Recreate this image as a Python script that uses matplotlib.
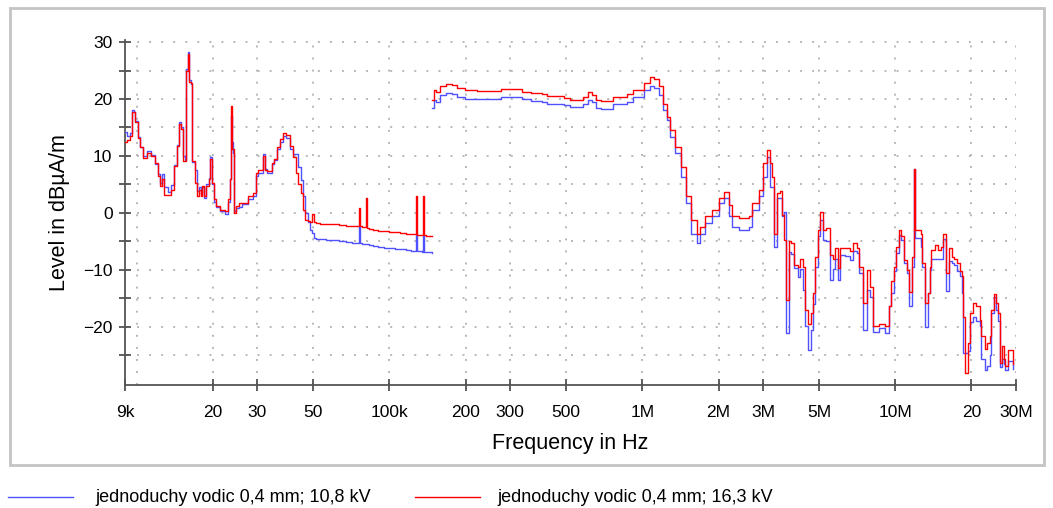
import numpy as np
import matplotlib
matplotlib.use("Agg")
import matplotlib.pyplot as plt
from matplotlib.lines import Line2D
from matplotlib.patches import Rectangle

plt.rcParams['font.family'] = ['Liberation Sans', 'DejaVu Sans']

# ---------------- data ----------------
series_labels = ["jednoduchy vodic 0,4 mm; 10,8 kV", "jednoduchy vodic 0,4 mm; 16,3 kV"]
series_colors = ["#5050ff", "#ff0000"]

# segment 1 : 9 kHz - 150 kHz (frequencies in kHz)
f1_khz = [9.0, 9.2, 9.4, 9.6, 9.75, 9.9, 10.1, 10.3, 10.6, 11.0, 11.4, 11.8, 12.1, 12.4, 12.6,
          12.85, 13.3, 13.7, 14.1, 14.4, 14.7, 15.0, 15.3, 15.5, 15.7, 15.9, 16.1, 16.4, 16.6,
          17.0, 17.3, 17.6, 17.9, 18.1, 18.5, 18.9, 19.3, 19.6, 19.9, 20.2, 20.7, 21.3, 22.4,
          23.0, 23.4, 23.55, 23.7, 23.85, 24.0, 24.2, 24.8, 25.5, 26.2, 27.5, 28.9, 29.6, 30.3,
          31.5, 32.3, 32.8, 34.2, 34.9, 36.0, 36.8, 37.9, 39.0, 40.4, 41.5, 42.7, 43.6, 44.6,
          45.3, 46.5, 47.5, 48.4, 49.5, 50.5, 51.0, 53, 56, 59, 63, 67, 71, 75.5, 76.0, 76.5,
          78, 80.5, 81.5, 83, 86, 90, 95, 100, 105, 110, 116, 122, 126.5, 127.5, 129, 134,
          136, 137, 140, 143, 147]
red1 = [12.5, 12.8, 13.5, 17.8, 17.8, 16.0, 13.2, 11.5, 9.7, 10.6, 10.0, 8.8, 6.5, 4.7, 5.9,
        3.2, 3.2, 4.0, 8.2, 11.8, 15.6, 14.7, 9.1, 9.1, 25.0, 27.9, 23.0, 22.8, 9.1,
        5.3, 2.9, 4.1, 2.9, 4.7, 2.9, 4.7, 5.9, 9.4, 5.3, 2.4, 1.2, 0.6, 0.3,
        2.4, 5.9, 13.0, 18.8, 11.2, 11.2, 0.0, 1.2, 1.8, 1.8, 2.9, 3.5, 7.0, 7.6,
        10.0, 7.6, 7.4, 8.8, 9.5, 11.5, 12.9, 14.0, 13.7, 11.7, 9.9, 7.0, 5.0, 3.5,
        0.6, -1.2, -1.4, -1.5, -0.2, -1.6, -1.8, -1.9, -2.0, -2.0, -2.1, -2.2, -2.3, -2.3, 0.9, -2.3,
        -2.5, 2.6, -2.6, -2.8, -3.0, -3.1, -3.2, -3.3, -3.4, -3.5, -3.6, -3.6, -3.7, 2.9, -3.8, -3.8,
        2.9, -3.9, -4.0, -4.0, -4.1]
blue1 = [14.2, 13.5, 14.0, 18.0, 17.8, 16.2, 13.4, 11.5, 10.0, 10.8, 10.2, 8.6, 6.8, 5.2, 6.8,
         4.6, 3.6, 4.9, 8.5, 12.0, 16.0, 15.0, 10.0, 9.3, 25.3, 28.2, 23.3, 22.6, 9.0,
         7.5, 3.8, 4.5, 3.3, 4.5, 2.6, 5.0, 6.2, 9.8, 5.0, 2.0, 1.0, 0.4, -0.1,
         2.0, 6.0, 15.5, 17.0, 12.5, 10.5, 0.3, 0.8, 1.0, 1.5, 2.5, 3.0, 6.5, 7.0,
         10.3, 7.8, 7.0, 8.6, 9.3, 11.3, 12.5, 13.5, 13.2, 11.3, 10.3, 10.3, 8.0, 5.8,
         3.0, 0.0, -1.5, -2.9, -3.5, -4.4, -4.5, -4.6, -4.7, -4.7, -5.0, -5.1, -5.2, -5.3, -2.3, -5.3,
         -5.4, -5.5, -5.5, -5.6, -5.8, -6.0, -6.1, -6.2, -6.3, -6.4, -6.5, -6.6, -6.7, -3.8, -6.7, -6.8,
         -3.8, -6.8, -6.9, -6.9, -7.0]

# segment 2 : 150 kHz - 30 MHz (frequencies in kHz)
f2_khz = [147, 150, 153, 158, 168, 177, 185, 199, 221, 267, 275, 312, 333, 364, 400, 420, 491,
          515, 566, 583, 612, 632, 656, 688, 768, 867, 922, 1010, 1070, 1110, 1160, 1210, 1250,
          1290, 1350, 1420, 1490, 1560, 1640, 1690, 1770, 1890, 2000, 2100, 2190, 2260, 2400,
          2630, 2710, 2880, 3010, 3100, 3200, 3240, 3320, 3390, 3490, 3580, 3630, 3690, 3790,
          3870, 3960, 4130, 4200, 4300, 4380, 4500, 4640, 4730, 4800, 4940, 5040, 5170, 5330,
          5500, 5670, 5760, 5940, 6030, 6310, 6600, 6790, 7040, 7210, 7480, 7720, 7960, 8160,
          8590, 9100, 9400, 9650, 9870, 10100, 10300, 10500, 10850, 11100, 11300, 11600, 11800,
          11900, 12000, 12600, 12800, 13100, 13500, 13700, 13900, 14300, 14700, 15200, 15500,
          15800, 16300, 16700, 17100, 17500, 18000, 18400, 18600, 18900, 19300, 19700, 20300,
          20900, 21600, 21900, 22600, 23100, 23600, 24000, 24600, 25100, 25400, 25900, 26300,
          26800, 27200, 28000, 29300]
red2 = [19.8, 21.6, 21.3, 22.3, 22.6, 22.5, 21.9, 21.6, 21.4, 21.4, 21.8, 21.8, 21.3, 21.0, 20.9, 20.5, 20.2,
        19.9, 19.9, 20.4, 21.3, 20.7, 19.8, 19.7, 20.4, 20.9, 21.6, 22.8, 23.8, 23.5, 22.2, 19.2, 16.9,
        14.6, 11.6, 8.1, 2.9, -1.2, -3.6, -2.4, -0.6, 0.5, 2.6, 3.6, 1.4, -0.6, -0.9,
        -0.6, 1.7, 4.0, 8.7, 11.1, 8.7, 6.4, -3.6, 3.5, 3.8, -0.3, -4.7, -15.3, -5.0,
        -5.3, -9.1, -9.4, -8.0, -9.4, -17.0, -19.4, -17.6, -14.1, -7.7, -3.0, 0.2, -3.0, -2.7,
        -7.4, -8.0, -6.2, -9.7, -6.2, -6.2, -6.6, -5.3, -6.2, -9.4, -15.8, -10.0, -12.9, -19.9,
        -19.4, -19.9, -16.4, -12.0, -9.4, -5.9, -3.0, -4.1, -8.2, -10.0, -13.8, -7.7, -4.7,
        7.8, -3.0, -3.6, -8.8, -15.8, -14.0, -9.4, -6.5, -5.6, -6.5, -5.9, -3.6,
        -10.6, -6.2, -7.7, -8.0, -8.8, -10.2, -11.1, -18.2, -28.1, -22.8, -17.5, -15.8,
        -16.4, -18.7, -21.6, -23.9, -22.8, -21.6, -17.0, -14.2, -15.8, -17.5, -26.4, -23.4,
        -25.7, -26.9, -24.0, -26.5]
blue2 = [18.5, 19.8, 19.5, 20.7, 21.0, 20.9, 20.4, 20.0, 20.0, 20.0, 20.3, 20.3, 20.0, 19.7, 19.5, 19.2, 18.9,
         18.6, 18.6, 19.2, 19.8, 19.4, 18.4, 18.2, 19.1, 19.5, 20.3, 21.6, 22.3, 21.9, 20.7, 18.0, 16.3,
         13.4, 10.5, 6.4, 1.7, -3.6, -5.3, -3.6, -1.8, -0.6, 1.7, 2.6, -0.6, -2.4, -3.0,
         -2.4, 0.5, 2.9, 6.4, 9.9, 4.6, 4.6, -5.9, 2.6, 2.6, -0.6, 0.2, -21.1, -6.9,
         -7.2, -9.6, -11.2, -9.8, -13.5, -19.9, -24.0, -20.6, -16.0, -9.4, -4.1, -1.2, -4.7, -5.0,
         -11.8, -9.8, -8.0, -11.8, -7.4, -7.6, -8.2, -6.7, -7.0, -10.5, -20.6, -13.5, -14.7, -20.8,
         -20.2, -21.1, -16.4, -14.0, -10.2, -7.0, -3.8, -4.7, -8.8, -10.5, -16.4, -9.4, -4.7,
         7.8, -4.4, -5.9, -9.5, -20.0, -14.0, -10.0, -8.0, -8.0, -8.0, -8.0, -4.5,
         -13.7, -8.5, -8.8, -9.2, -10.2, -11.1, -14.0, -24.6, -24.6, -24.3, -19.2, -18.2,
         -19.0, -19.9, -25.7, -27.5, -26.9, -25.0, -17.5, -14.7, -17.0, -19.0, -27.0, -25.7,
         -26.5, -27.5, -26.0, -27.3]

x_tick_values = [9e3, 2e4, 3e4, 5e4, 1e5, 2e5, 3e5, 5e5, 1e6, 2e6, 3e6, 5e6, 1e7, 2e7, 3e7]
x_tick_labels = ["9k", "20", "30", "50", "100k", "200", "300", "500", "1M", "2M", "3M", "5M", "10M", "20", "30M"]
x_grid_values = [1e4, 2e4, 3e4, 5e4, 1e5, 2e5, 3e5, 5e5, 1e6, 2e6, 3e6, 5e6, 1e7, 2e7, 3e7]
y_major = [-20, -10, 0, 10, 20, 30]
y_minor = [-25, -15, -5, 5, 15, 25]

# ---------------- figure ----------------
W, H = 1053, 508
fig = plt.figure(figsize=(W / 100, H / 100), dpi=100)
fig.patch.set_facecolor('white')

ax_left, ax_right = 125, 1016
ax_top, ax_bot = 40.3, 385.1
ax = fig.add_axes([ax_left / W, 1 - ax_bot / H, (ax_right - ax_left) / W, (ax_bot - ax_top) / H])
ax.set_xscale('log')
ax.set_xlim(9e3, 3e7)
ax.set_ylim(-30.2, 30.3)

for spine in ['top', 'right']:
    ax.spines[spine].set_visible(False)
for spine in ['left', 'bottom']:
    ax.spines[spine].set_color('#555555')
    ax.spines[spine].set_linewidth(1.3)

# grid (dotted)
grid_kw = dict(color='#b8b8b8', lw=1.4, ls=(0, (1, 5.2)), zorder=0)
for xv in x_grid_values:
    ax.axvline(xv, **grid_kw)
for yv in y_major + y_minor:
    ax.axhline(yv, **grid_kw)

# data
segments = [(f1_khz, blue1, red1), (f2_khz, blue2, red2)]
for fk, b, r in segments:
    f = np.array(fk) * 1e3
    ax.plot(f, b, color=series_colors[0], lw=1.0, drawstyle='steps-post', zorder=3)
    ax.plot(f, r, color=series_colors[1], lw=1.0, drawstyle='steps-post', zorder=4)

# ticks
ax.set_xticks(x_tick_values)
ax.set_xticklabels(x_tick_labels)
ax.xaxis.set_minor_locator(matplotlib.ticker.NullLocator())
ax.set_yticks(y_major)
ax.set_yticks(y_minor, minor=True)
ax.tick_params(axis='x', which='major', direction='inout', length=8, width=1.2,
               color='#444444', labelsize=12.5, pad=10)
ax.tick_params(axis='y', which='both', direction='inout', length=8, width=1.2,
               color='#444444', labelsize=12.5, pad=5)
ax.tick_params(axis='y', which='minor', labelleft=False)

ax.set_xlabel("Frequency in Hz", fontsize=15.5, labelpad=10)
ax.set_ylabel("Level in dB\u00b5A/m", fontsize=15.5, labelpad=9)

# outer frame
fig.patches.append(Rectangle((10 / W, 1 - 465 / H), (1044 - 10) / W, (465 - 8) / H,
                             fill=False, edgecolor='#c4c4c4', lw=2, transform=fig.transFigure))

# legend below frame
ly = 1 - 497 / H
for (x0, x1, tx), lab, col in zip([(8, 73, 95), (415, 480, 497)], series_labels, series_colors):
    fig.lines.append(Line2D([x0 / W, x1 / W], [ly, ly], color=col, lw=1.0, transform=fig.transFigure))
    fig.text(tx / W, ly, lab, fontsize=13, va='center', ha='left')

fig.savefig("out.png", dpi=100)
